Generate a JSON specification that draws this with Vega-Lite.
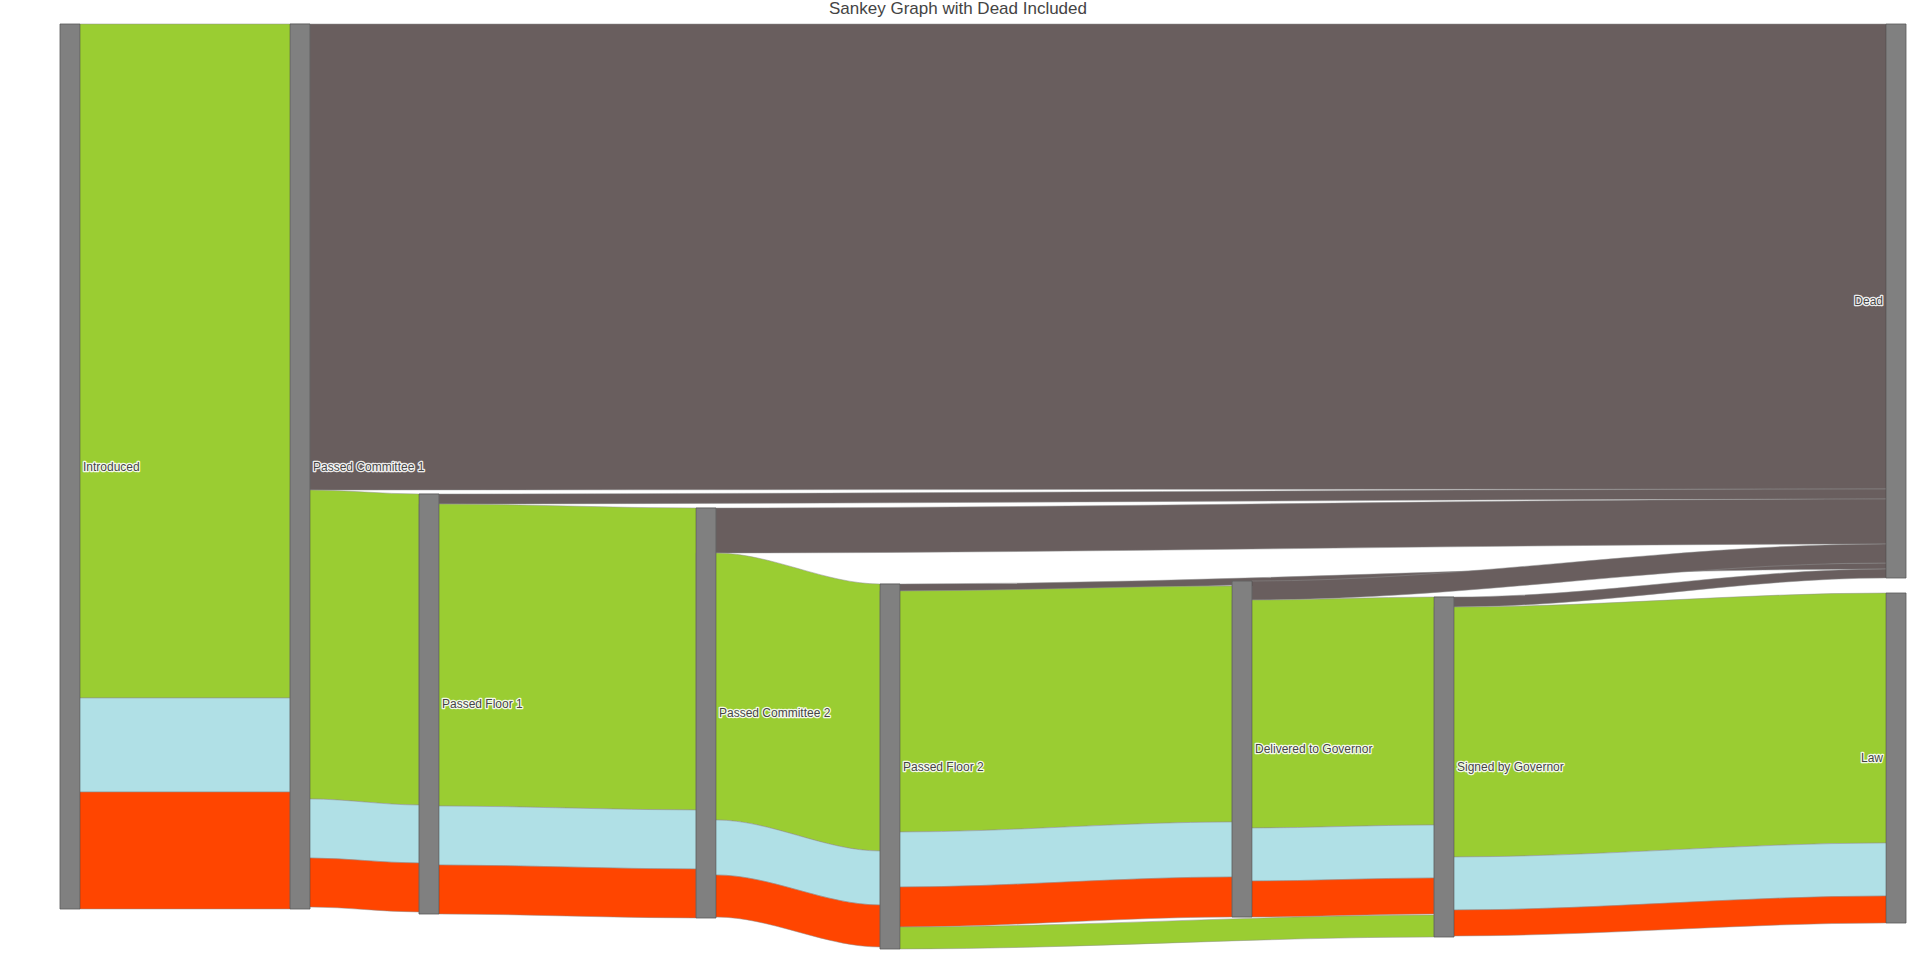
{
  "$schema": "https://vega.github.io/schema/vega-lite/v6.json",
  "width": 1916,
  "height": 935,
  "autosize": {"type": "none"},
  "padding": {"top": 24, "left": 0, "right": 0, "bottom": 0},
  "title": {"text": "Sankey Graph with Dead Included", "font": "Liberation Sans", "fontSize": 17, "fontWeight": "normal", "color": "#444444", "anchor": "middle", "offset": 5},
  "config": {"view": {"stroke": null}},
  "datasets": {
    "nodes": [
      {"name": "Introduced", "x0": 60, "x1": 80, "y0": 24, "y1": 909, "yc": 466.5, "side": "right"},
      {"name": "Passed Committee 1", "x0": 290, "x1": 310, "y0": 24, "y1": 909, "yc": 466.5, "side": "right"},
      {"name": "Passed Floor 1", "x0": 419, "x1": 439, "y0": 494, "y1": 914, "yc": 704, "side": "right"},
      {"name": "Passed Committee 2", "x0": 696, "x1": 716, "y0": 508, "y1": 918, "yc": 713, "side": "right"},
      {"name": "Passed Floor 2", "x0": 880, "x1": 900, "y0": 584, "y1": 949, "yc": 766.5, "side": "right"},
      {"name": "Delivered to Governor", "x0": 1232, "x1": 1252, "y0": 581, "y1": 917, "yc": 749, "side": "right"},
      {"name": "Signed by Governor", "x0": 1434, "x1": 1454, "y0": 597, "y1": 937, "yc": 767, "side": "right"},
      {"name": "Dead", "x0": 1886, "x1": 1906, "y0": 24, "y1": 578, "yc": 301, "side": "left"},
      {"name": "Law", "x0": 1886, "x1": 1906, "y0": 593, "y1": 923, "yc": 758, "side": "left"}
    ],
    "flows": [
      {"l": "L04", "c": "Dead", "x": 290, "t": 24, "b": 490}, {"l": "L04", "c": "Dead", "x": 310, "t": 24, "b": 490}, {"l": "L04", "c": "Dead", "x": 1886, "t": 24, "b": 489}, {"l": "L04", "c": "Dead", "x": 1906, "t": 24, "b": 489},
      {"l": "L08", "c": "Dead", "x": 419, "t": 494, "b": 504}, {"l": "L08", "c": "Dead", "x": 439, "t": 494, "b": 504}, {"l": "L08", "c": "Dead", "x": 1886, "t": 489, "b": 499}, {"l": "L08", "c": "Dead", "x": 1906, "t": 489, "b": 499},
      {"l": "L12", "c": "Dead", "x": 696, "t": 508, "b": 553}, {"l": "L12", "c": "Dead", "x": 716, "t": 508, "b": 553}, {"l": "L12", "c": "Dead", "x": 1886, "t": 499, "b": 544}, {"l": "L12", "c": "Dead", "x": 1906, "t": 499, "b": 544},
      {"l": "L16", "c": "Dead", "x": 880, "t": 584, "b": 591}, {"l": "L16", "c": "Dead", "x": 900, "t": 584, "b": 591}, {"l": "L16", "c": "Dead", "x": 1886, "t": 563, "b": 569}, {"l": "L16", "c": "Dead", "x": 1906, "t": 563, "b": 569},
      {"l": "L21", "c": "Dead", "x": 1232, "t": 581, "b": 600}, {"l": "L21", "c": "Dead", "x": 1252, "t": 581, "b": 600}, {"l": "L21", "c": "Dead", "x": 1886, "t": 544, "b": 563}, {"l": "L21", "c": "Dead", "x": 1906, "t": 544, "b": 563},
      {"l": "L25", "c": "Dead", "x": 1434, "t": 597, "b": 607}, {"l": "L25", "c": "Dead", "x": 1454, "t": 597, "b": 607}, {"l": "L25", "c": "Dead", "x": 1886, "t": 569, "b": 578}, {"l": "L25", "c": "Dead", "x": 1906, "t": 569, "b": 578},
      {"l": "L01", "c": "Group 1", "x": 60, "t": 24, "b": 698}, {"l": "L01", "c": "Group 1", "x": 80, "t": 24, "b": 698}, {"l": "L01", "c": "Group 1", "x": 290, "t": 24, "b": 698}, {"l": "L01", "c": "Group 1", "x": 310, "t": 24, "b": 698},
      {"l": "L02", "c": "Group 2", "x": 60, "t": 698, "b": 792}, {"l": "L02", "c": "Group 2", "x": 80, "t": 698, "b": 792}, {"l": "L02", "c": "Group 2", "x": 290, "t": 698, "b": 792}, {"l": "L02", "c": "Group 2", "x": 310, "t": 698, "b": 792},
      {"l": "L03", "c": "Group 3", "x": 60, "t": 792, "b": 909}, {"l": "L03", "c": "Group 3", "x": 80, "t": 792, "b": 909}, {"l": "L03", "c": "Group 3", "x": 290, "t": 792, "b": 909}, {"l": "L03", "c": "Group 3", "x": 310, "t": 792, "b": 909},
      {"l": "L05", "c": "Group 1", "x": 290, "t": 490, "b": 799}, {"l": "L05", "c": "Group 1", "x": 310, "t": 490, "b": 799}, {"l": "L05", "c": "Group 1", "x": 419, "t": 494, "b": 805}, {"l": "L05", "c": "Group 1", "x": 439, "t": 494, "b": 805},
      {"l": "L06", "c": "Group 2", "x": 290, "t": 799, "b": 858}, {"l": "L06", "c": "Group 2", "x": 310, "t": 799, "b": 858}, {"l": "L06", "c": "Group 2", "x": 419, "t": 805, "b": 863}, {"l": "L06", "c": "Group 2", "x": 439, "t": 805, "b": 863},
      {"l": "L07", "c": "Group 3", "x": 290, "t": 858, "b": 907}, {"l": "L07", "c": "Group 3", "x": 310, "t": 858, "b": 907}, {"l": "L07", "c": "Group 3", "x": 419, "t": 863, "b": 912}, {"l": "L07", "c": "Group 3", "x": 439, "t": 863, "b": 912},
      {"l": "L09", "c": "Group 1", "x": 419, "t": 504, "b": 806}, {"l": "L09", "c": "Group 1", "x": 439, "t": 504, "b": 806}, {"l": "L09", "c": "Group 1", "x": 696, "t": 508, "b": 810}, {"l": "L09", "c": "Group 1", "x": 716, "t": 508, "b": 810},
      {"l": "L10", "c": "Group 2", "x": 419, "t": 806, "b": 865}, {"l": "L10", "c": "Group 2", "x": 439, "t": 806, "b": 865}, {"l": "L10", "c": "Group 2", "x": 696, "t": 810, "b": 869}, {"l": "L10", "c": "Group 2", "x": 716, "t": 810, "b": 869},
      {"l": "L11", "c": "Group 3", "x": 419, "t": 865, "b": 914}, {"l": "L11", "c": "Group 3", "x": 439, "t": 865, "b": 914}, {"l": "L11", "c": "Group 3", "x": 696, "t": 869, "b": 918}, {"l": "L11", "c": "Group 3", "x": 716, "t": 869, "b": 918},
      {"l": "L13", "c": "Group 1", "x": 696, "t": 553, "b": 820}, {"l": "L13", "c": "Group 1", "x": 716, "t": 553, "b": 820}, {"l": "L13", "c": "Group 1", "x": 880, "t": 584, "b": 851}, {"l": "L13", "c": "Group 1", "x": 900, "t": 584, "b": 851},
      {"l": "L14", "c": "Group 2", "x": 696, "t": 820, "b": 875}, {"l": "L14", "c": "Group 2", "x": 716, "t": 820, "b": 875}, {"l": "L14", "c": "Group 2", "x": 880, "t": 851, "b": 905}, {"l": "L14", "c": "Group 2", "x": 900, "t": 851, "b": 905},
      {"l": "L15", "c": "Group 3", "x": 696, "t": 875, "b": 917}, {"l": "L15", "c": "Group 3", "x": 716, "t": 875, "b": 917}, {"l": "L15", "c": "Group 3", "x": 880, "t": 905, "b": 947}, {"l": "L15", "c": "Group 3", "x": 900, "t": 905, "b": 947},
      {"l": "L17", "c": "Group 1", "x": 880, "t": 591, "b": 832}, {"l": "L17", "c": "Group 1", "x": 900, "t": 591, "b": 832}, {"l": "L17", "c": "Group 1", "x": 1232, "t": 586, "b": 822}, {"l": "L17", "c": "Group 1", "x": 1252, "t": 586, "b": 822},
      {"l": "L18", "c": "Group 2", "x": 880, "t": 832, "b": 887}, {"l": "L18", "c": "Group 2", "x": 900, "t": 832, "b": 887}, {"l": "L18", "c": "Group 2", "x": 1232, "t": 822, "b": 877}, {"l": "L18", "c": "Group 2", "x": 1252, "t": 822, "b": 877},
      {"l": "L19", "c": "Group 3", "x": 880, "t": 887, "b": 927}, {"l": "L19", "c": "Group 3", "x": 900, "t": 887, "b": 927}, {"l": "L19", "c": "Group 3", "x": 1232, "t": 877, "b": 917}, {"l": "L19", "c": "Group 3", "x": 1252, "t": 877, "b": 917},
      {"l": "L20", "c": "Group 1", "x": 880, "t": 927, "b": 949}, {"l": "L20", "c": "Group 1", "x": 900, "t": 927, "b": 949}, {"l": "L20", "c": "Group 1", "x": 1434, "t": 915, "b": 937}, {"l": "L20", "c": "Group 1", "x": 1454, "t": 915, "b": 937},
      {"l": "L22", "c": "Group 1", "x": 1232, "t": 600, "b": 828}, {"l": "L22", "c": "Group 1", "x": 1252, "t": 600, "b": 828}, {"l": "L22", "c": "Group 1", "x": 1434, "t": 597, "b": 825}, {"l": "L22", "c": "Group 1", "x": 1454, "t": 597, "b": 825},
      {"l": "L23", "c": "Group 2", "x": 1232, "t": 828, "b": 881}, {"l": "L23", "c": "Group 2", "x": 1252, "t": 828, "b": 881}, {"l": "L23", "c": "Group 2", "x": 1434, "t": 825, "b": 878}, {"l": "L23", "c": "Group 2", "x": 1454, "t": 825, "b": 878},
      {"l": "L24", "c": "Group 3", "x": 1232, "t": 881, "b": 917}, {"l": "L24", "c": "Group 3", "x": 1252, "t": 881, "b": 917}, {"l": "L24", "c": "Group 3", "x": 1434, "t": 878, "b": 914}, {"l": "L24", "c": "Group 3", "x": 1454, "t": 878, "b": 914},
      {"l": "L26", "c": "Group 1", "x": 1434, "t": 607, "b": 857}, {"l": "L26", "c": "Group 1", "x": 1454, "t": 607, "b": 857}, {"l": "L26", "c": "Group 1", "x": 1886, "t": 593, "b": 843}, {"l": "L26", "c": "Group 1", "x": 1906, "t": 593, "b": 843},
      {"l": "L27", "c": "Group 2", "x": 1434, "t": 857, "b": 910}, {"l": "L27", "c": "Group 2", "x": 1454, "t": 857, "b": 910}, {"l": "L27", "c": "Group 2", "x": 1886, "t": 843, "b": 896}, {"l": "L27", "c": "Group 2", "x": 1906, "t": 843, "b": 896},
      {"l": "L28", "c": "Group 3", "x": 1434, "t": 910, "b": 936}, {"l": "L28", "c": "Group 3", "x": 1454, "t": 910, "b": 936}, {"l": "L28", "c": "Group 3", "x": 1886, "t": 896, "b": 923}, {"l": "L28", "c": "Group 3", "x": 1906, "t": 896, "b": 923}
    ]
  },
  "layer": [
    {
      "data": {"name": "flows"},
      "mark": {"type": "area", "interpolate": "monotone", "stroke": "#8f8f8f", "strokeWidth": 0.5},
      "encoding": {
        "x": {"field": "x", "type": "quantitative", "scale": {"domain": [0, 1916], "nice": false, "zero": false}, "axis": null},
        "y": {"field": "t", "type": "quantitative", "stack": null, "scale": {"domain": [24, 959], "reverse": true, "nice": false, "zero": false}, "axis": null},
        "y2": {"field": "b"},
        "detail": {"field": "l", "type": "nominal"},
        "color": {"field": "c", "type": "nominal", "scale": {"domain": ["Dead", "Group 1", "Group 2", "Group 3"], "range": ["#695e5e", "#9acd32", "#b0e0e6", "#ff4500"]}, "legend": null}
      }
    },
    {
      "data": {"name": "nodes"},
      "mark": {"type": "rect", "fill": "#808080", "stroke": "#444444", "strokeWidth": 0.5},
      "encoding": {
        "x": {"field": "x0", "type": "quantitative"},
        "x2": {"field": "x1"},
        "y": {"field": "y0", "type": "quantitative"},
        "y2": {"field": "y1"}
      }
    },
    {
      "data": {"name": "nodes"},
      "transform": [{"filter": "datum.side === 'right'"}],
      "mark": {"type": "text", "align": "left", "baseline": "middle", "dx": 3, "font": "Liberation Sans", "fontSize": 12, "stroke": "#ffffff", "strokeWidth": 2.5, "strokeOpacity": 0.9, "fill": "#ffffff", "strokeJoin": "round"},
      "encoding": {
        "x": {"field": "x1", "type": "quantitative"},
        "y": {"field": "yc", "type": "quantitative"},
        "text": {"field": "name"}
      }
    },
    {
      "data": {"name": "nodes"},
      "transform": [{"filter": "datum.side === 'right'"}],
      "mark": {"type": "text", "align": "left", "baseline": "middle", "dx": 3, "font": "Liberation Sans", "fontSize": 12, "fill": "#444444"},
      "encoding": {
        "x": {"field": "x1", "type": "quantitative"},
        "y": {"field": "yc", "type": "quantitative"},
        "text": {"field": "name"}
      }
    },
    {
      "data": {"name": "nodes"},
      "transform": [{"filter": "datum.side === 'left'"}],
      "mark": {"type": "text", "align": "right", "baseline": "middle", "dx": -3, "font": "Liberation Sans", "fontSize": 12, "stroke": "#ffffff", "strokeWidth": 2.5, "strokeOpacity": 0.9, "fill": "#ffffff", "strokeJoin": "round"},
      "encoding": {
        "x": {"field": "x0", "type": "quantitative"},
        "y": {"field": "yc", "type": "quantitative"},
        "text": {"field": "name"}
      }
    },
    {
      "data": {"name": "nodes"},
      "transform": [{"filter": "datum.side === 'left'"}],
      "mark": {"type": "text", "align": "right", "baseline": "middle", "dx": -3, "font": "Liberation Sans", "fontSize": 12, "fill": "#444444"},
      "encoding": {
        "x": {"field": "x0", "type": "quantitative"},
        "y": {"field": "yc", "type": "quantitative"},
        "text": {"field": "name"}
      }
    }
  ]
}
